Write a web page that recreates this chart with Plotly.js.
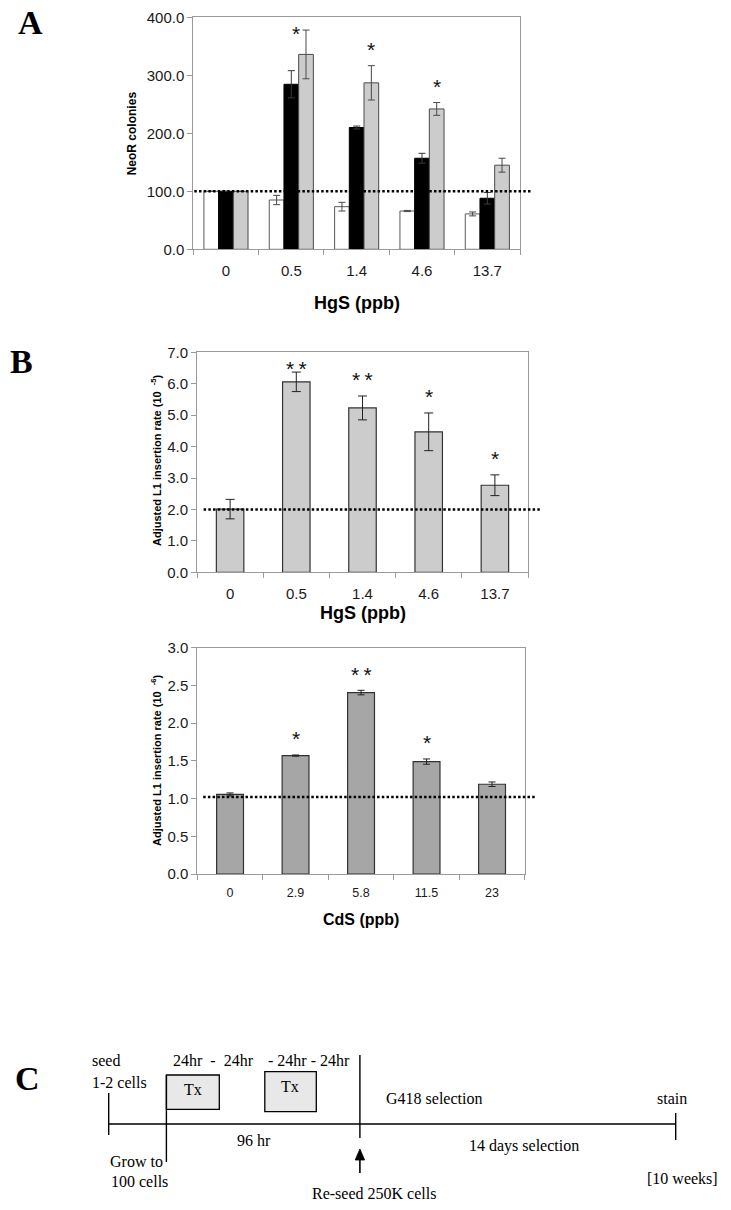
<!DOCTYPE html>
<html>
<head>
<meta charset="utf-8">
<script src="https://cdn.plot.ly/plotly-3.0.1.min.js"></script>
<style>
  html, body { margin: 0; padding: 0; background: #ffffff; }
  #chart { width: 731px; height: 1210px; }
</style>
</head>
<body>
<div id="chart"></div>
<script>
// ---------------- DATA ----------------
// Panel A: NeoR colonies vs HgS dose (three series)
const doseHgS = ['0', '0.5', '1.4', '4.6', '13.7'];
const neoWhite = [100, 85, 73.5, 66, 61];
const neoWhiteErr = [0, 8, 7.5, 1, 3.4];
const neoBlack = [100, 284.5, 210, 157, 88];
const neoBlackErr = [0, 23.5, 2.5, 8.5, 10];
const neoGray = [100, 336, 287, 242, 145];
const neoGrayErr = [0, 42, 29.6, 11, 12];
const sigA = ['', '*', '*', '*', ''];
const refA = 100;

// Panel B (top): adjusted L1 insertion rate (10^-5) vs HgS dose
const hgsRate = [2.01, 6.06, 5.23, 4.47, 2.77];
const hgsErr = [0.31, 0.31, 0.38, 0.6, 0.33];
const sigHgS = ['', '**', '**', '*', '*'];
const refHgS = 2.0;

// Panel B (bottom): adjusted L1 insertion rate (10^-6) vs CdS dose
const doseCdS = ['0', '2.9', '5.8', '11.5', '23'];
const cdsRate = [1.055, 1.57, 2.405, 1.49, 1.19];
const cdsErr = [0.02, 0.008, 0.03, 0.035, 0.03];
const sigCdS = ['', '*', '**', '*', ''];
const refCdS = 1.02;

// Panel C: protocol timeline texts
const timelineTop = ['seed', '1-2 cells'];
const periodLabels = ['24hr\u00a0\u00a0-\u00a0\u00a024hr', '-\u00a024hr\u00a0-\u00a024hr'];
const treatLabel = 'Tx';

// ---------------- GEOMETRY HELPERS ----------------
const W = 731, H = 1210;
const PX = x => x / W;
const PY = y => 1 - y / H;

const gA = { l: 193.3, r: 520, t: 17.3, b: 249.3, ymax: 400 };
const gB = { l: 197, r: 528, t: 352.3, b: 572.3, ymax: 7 };
const gC = { l: 197.3, r: 524.8, t: 647.7, b: 874, ymax: 3 };

const AXIS_LINE = '#9a9a9a';
const TXT = '#1a1a1a';
const SANS = 'Liberation Sans, Arial, sans-serif';
const SERIF = 'Liberation Serif, Times New Roman, serif';

function xAx(g, anchor, cats, fs, standoff) {
  return {
    domain: [PX(g.l), PX(g.r)], anchor: anchor, type: 'category',
    categoryorder: 'array', categoryarray: cats, range: [-0.5, cats.length - 0.5],
    showline: true, linecolor: AXIS_LINE, linewidth: 1, mirror: true,
    ticks: 'outside', tickson: 'boundaries', ticklen: 5, tickcolor: AXIS_LINE, tickwidth: 1,
    tickfont: { family: SANS, size: fs, color: TXT }, ticklabelstandoff: standoff,
    showgrid: false, zeroline: false, fixedrange: true
  };
}
function yAx(g, anchor, dtick) {
  return {
    domain: [PY(g.b), PY(g.t)], anchor: anchor, range: [0, g.ymax],
    tickmode: 'linear', tick0: 0, dtick: dtick, tickformat: '.1f',
    showline: true, linecolor: AXIS_LINE, linewidth: 1, mirror: true,
    ticks: 'outside', ticklen: 5, tickcolor: AXIS_LINE, tickwidth: 1,
    tickfont: { family: SANS, size: 15, color: TXT },
    showgrid: false, zeroline: false, fixedrange: true
  };
}

// ---------------- TRACES ----------------
const barW = 0.225;
const traces = [
  { type: 'bar', x: doseHgS, y: neoWhite, xaxis: 'x', yaxis: 'y', width: barW, offset: -1.5 * barW,
    marker: { color: '#ffffff', line: { color: '#5a5a5a', width: 1 } },
    error_y: { type: 'data', array: neoWhiteErr, color: '#4a4a4a', thickness: 1, width: 3.5 } },
  { type: 'bar', x: doseHgS, y: neoBlack, xaxis: 'x', yaxis: 'y', width: barW, offset: -0.5 * barW,
    marker: { color: '#000000', line: { color: '#000000', width: 1 } },
    error_y: { type: 'data', array: neoBlackErr, color: '#3a3a3a', thickness: 1, width: 3.5 } },
  { type: 'bar', x: doseHgS, y: neoGray, xaxis: 'x', yaxis: 'y', width: barW, offset: 0.5 * barW,
    marker: { color: '#cccccc', line: { color: '#4a4a4a', width: 1 } },
    error_y: { type: 'data', array: neoGrayErr, color: '#4a4a4a', thickness: 1, width: 3.5 } },
  { type: 'bar', x: doseHgS, y: hgsRate, xaxis: 'x2', yaxis: 'y2', width: 0.415,
    marker: { color: '#cccccc', line: { color: '#333333', width: 1.2 } },
    error_y: { type: 'data', array: hgsErr, color: '#222222', thickness: 1, width: 4.5 } },
  { type: 'bar', x: doseCdS, y: cdsRate, xaxis: 'x3', yaxis: 'y3', width: 0.41,
    marker: { color: '#a6a6a6', line: { color: '#333333', width: 1.2 } },
    error_y: { type: 'data', array: cdsErr, color: '#222222', thickness: 1, width: 3.5 } }
];

// ---------------- ANNOTATIONS ----------------
const annotations = [];

// significance marks: positioned over each bar's error cap (category index on x);
// when the cap is too close to the frame top, the mark sits beside the error bar
function sigAnnots(xref, yref, g, vals, errs, marks, xshift) {
  const scale = (g.b - g.t) / g.ymax;
  vals.forEach((v, i) => {
    if (!marks[i]) return;
    const cap = v + errs[i];
    const capFromTop = (g.ymax - cap) * scale;
    const wanted = capFromTop - 21;
    const clamped = wanted < 11;
    const glyphFromTop = clamped ? 11 : wanted;
    annotations.push({
      xref: xref, yref: yref, x: i, y: cap,
      xshift: xshift + (clamped && marks[i].length === 1 ? -10 : 0),
      yshift: capFromTop - (glyphFromTop + 4.8),
      text: marks[i].split('').join('\u2009'), showarrow: false,
      xanchor: 'center', yanchor: 'middle',
      font: { family: SANS, size: 21, color: '#111111' }
    });
  });
}
sigAnnots('x', 'y', gA, neoGray, neoGrayErr, sigA, 14.7);
sigAnnots('x2', 'y2', gB, hgsRate, hgsErr, sigHgS, 0);
sigAnnots('x3', 'y3', gC, cdsRate, cdsErr, sigCdS, 0);

function txt(text, x, y, opts) {
  annotations.push(Object.assign({
    xref: 'paper', yref: 'paper', x: PX(x), y: PY(y), text: text, showarrow: false,
    xanchor: 'center', yanchor: 'middle', font: { family: SANS, size: 12, color: TXT }
  }, opts || {}));
}

// axis titles
txt('<b>NeoR colonies</b>', 132, (gA.t + gA.b) / 2, { textangle: -90, font: { family: SANS, size: 12, color: '#000' } });
txt('<b>HgS (ppb)</b>', (gA.l + gA.r) / 2, 303, { font: { family: SANS, size: 18, color: '#000' } });
txt('<b>Adjusted L1 insertion rate (10\u00a0\u00a0<sup>-5</sup>)</b>', 155.5, 460.5, { textangle: -90, font: { family: SANS, size: 11, color: '#000' } });
txt('<b>HgS (ppb)</b>', (gB.l + gB.r) / 2, 613, { font: { family: SANS, size: 18, color: '#000' } });
txt('<b>Adjusted L1 insertion rate (10\u00a0\u00a0<sup>-6</sup>)</b>', 155.5, 760.5, { textangle: -90, font: { family: SANS, size: 11, color: '#000' } });
txt('<b>CdS (ppb)</b>', (gC.l + gC.r) / 2, 919, { font: { family: SANS, size: 16, color: '#000' } });

// panel letters
const letterFont = { family: SERIF, size: 34, color: '#000' };
txt('<b>A</b>', 30, 23, { font: letterFont });
txt('<b>B</b>', 21, 361, { font: letterFont });
txt('<b>C</b>', 27, 1078, { font: letterFont });

// panel C texts
const cf = { family: SERIF, size: 16, color: '#000' };
txt(timelineTop[0], 90, 1060, { xanchor: 'left', font: cf });
txt(timelineTop[1], 90, 1082.7, { xanchor: 'left', font: cf });
txt(periodLabels[0], 171, 1060, { xanchor: 'left', font: cf });
txt(periodLabels[1], 266, 1060, { xanchor: 'left', font: cf });
txt(treatLabel, 192.6, 1089.3, { font: cf });
txt(treatLabel, 289.6, 1086, { font: cf });
txt('G418 selection', 384, 1098.3, { xanchor: 'left', font: cf });
txt('stain', 655, 1098.3, { xanchor: 'left', font: cf });
txt('96 hr', 254, 1140, { font: cf });
txt('14 days selection', 524, 1145.7, { font: cf });
txt('Grow to', 107.8, 1161.7, { xanchor: 'left', font: cf });
txt('100 cells', 108.7, 1181.7, { xanchor: 'left', font: cf });
txt('Re-seed 250K cells', 374, 1193.3, { font: cf });
txt('[10 weeks]', 682, 1178, { font: cf });

// ---------------- SHAPES ----------------
const shapes = [];
function refLine(xref, yref, yv, x0, x1) {
  shapes.push({ type: 'line', xref: xref + ' domain', yref: yref, x0: x0, x1: x1, y0: yv, y1: yv,
    line: { color: '#000', width: 2.6, dash: '2.5px,2.2px' }, layer: 'above' });
}
refLine('x', 'y', refA, 0.003, 1.037);
refLine('x2', 'y2', refHgS, 0.02, 1.036);
refLine('x3', 'y3', refCdS, 0.018, 1.037);

function pline(x0, y0, x1, y1, w) {
  shapes.push({ type: 'line', xref: 'paper', yref: 'paper', x0: PX(x0), y0: PY(y0), x1: PX(x1), y1: PY(y1),
    line: { color: '#000', width: w || 1.4 } });
}
function prect(x0, y0, x1, y1) {
  shapes.push({ type: 'rect', xref: 'paper', yref: 'paper', x0: PX(x0), y0: PY(y0), x1: PX(x1), y1: PY(y1),
    fillcolor: '#e8e8e8', line: { color: '#000', width: 1.3 }, layer: 'below' });
}
pline(108.7, 1124, 675.7, 1124);          // main timeline
pline(108.7, 1093, 108.7, 1135);          // seed
pline(166.4, 1075, 166.4, 1162);          // grow to 100 cells
pline(359.9, 1055, 359.9, 1138);          // re-seed
pline(675.7, 1113, 675.7, 1140);          // stain
prect(166.4, 1075, 219.3, 1109.3);        // Tx box 1
prect(264.8, 1071.7, 316.3, 1111.7);      // Tx box 2
// re-seed arrow: shaft + filled head
pline(359.9, 1173, 359.9, 1158, 1.6);
shapes.push({ type: 'path', xref: 'paper', yref: 'paper',
  path: 'M ' + PX(355.2) + ' ' + PY(1160) + ' L ' + PX(364.6) + ' ' + PY(1160) + ' L ' + PX(359.9) + ' ' + PY(1149) + ' Z',
  fillcolor: '#000', line: { color: '#000', width: 0.8 } });

// ---------------- LAYOUT ----------------
const layout = {
  width: W, height: H,
  margin: { l: 0, r: 0, t: 0, b: 0 },
  paper_bgcolor: '#ffffff', plot_bgcolor: 'rgba(0,0,0,0)',
  showlegend: false, barmode: 'group',
  font: { family: SANS, color: TXT },
  xaxis: xAx(gA, 'y', doseHgS, 15, 8),
  yaxis: yAx(gA, 'x', 100),
  xaxis2: xAx(gB, 'y2', doseHgS, 15, 8),
  yaxis2: yAx(gB, 'x2', 1),
  xaxis3: xAx(gC, 'y3', doseCdS, 12.5, 7),
  yaxis3: yAx(gC, 'x3', 0.5),
  annotations: annotations,
  shapes: shapes
};

Plotly.newPlot('chart', traces, layout, { staticPlot: true, displayModeBar: false });
</script>
</body>
</html>
